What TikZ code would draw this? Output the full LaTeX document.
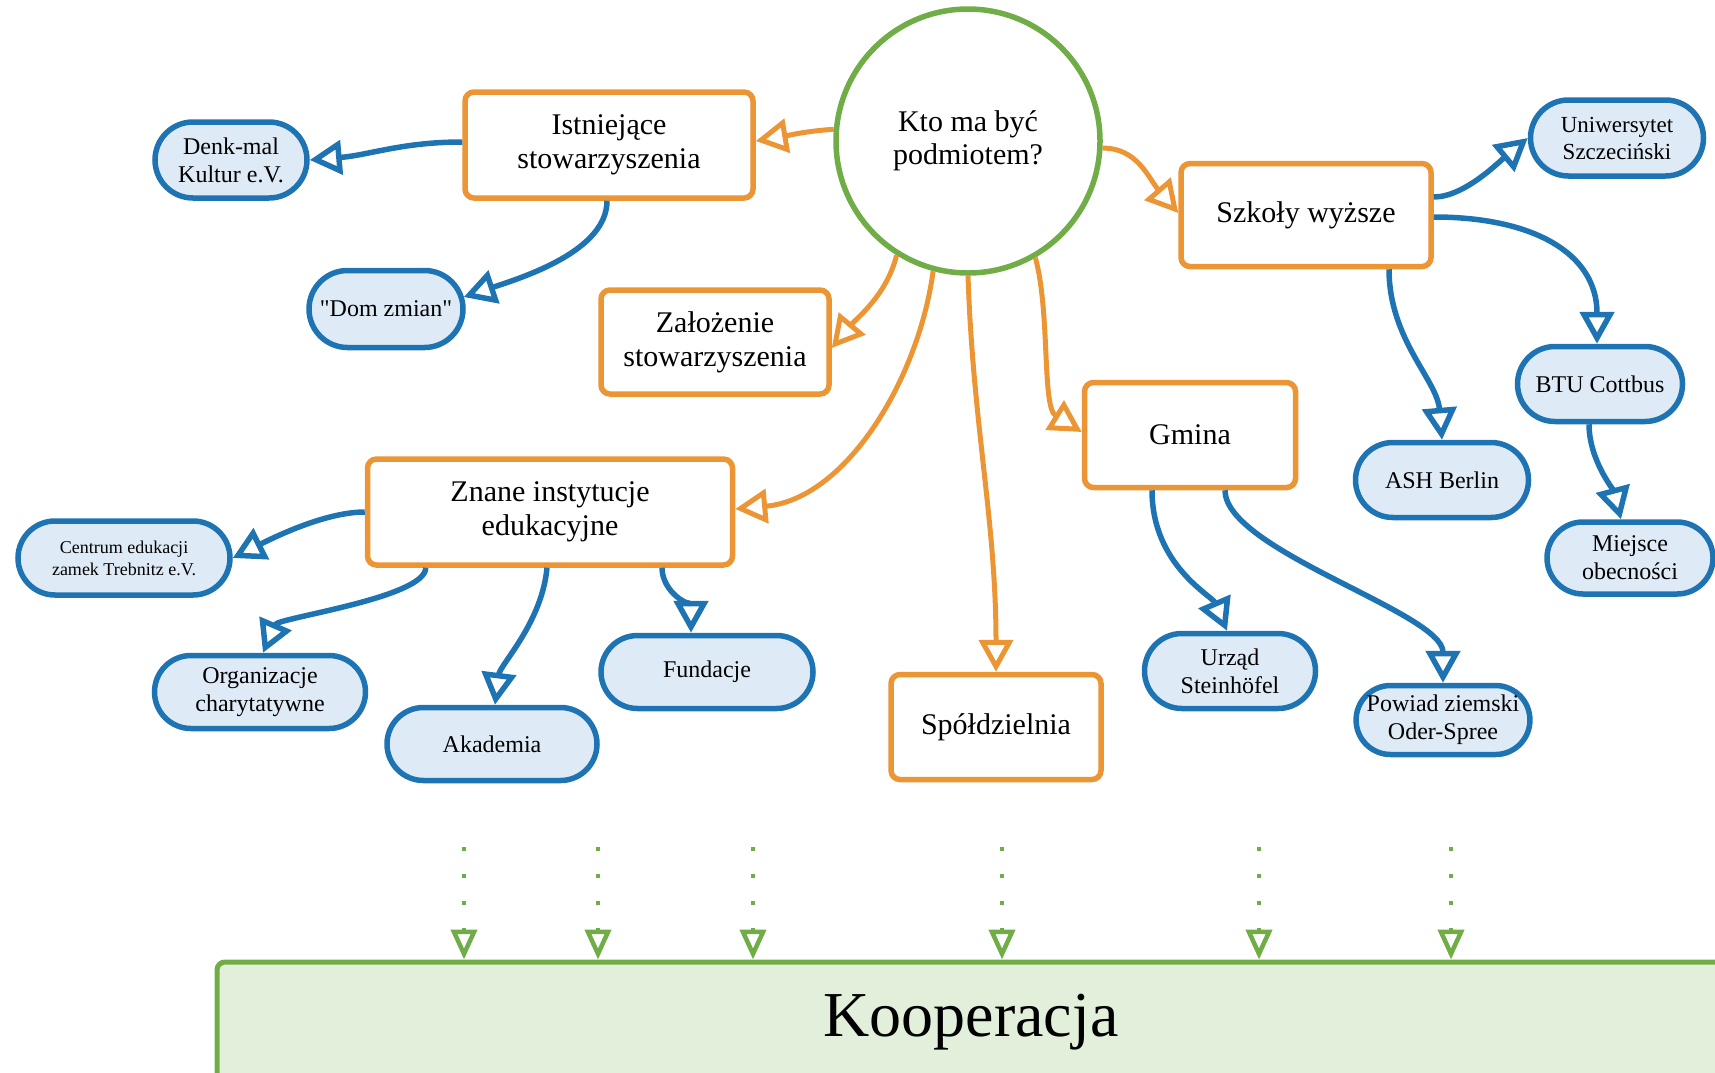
\documentclass[tikz,border=0pt]{standalone}
\usepackage{fontspec}
\setmainfont{Liberation Serif}
\newfontfamily\plainquotes{Liberation Serif}[Ligatures=TeXOff]
\usetikzlibrary{arrows.meta,shapes.misc,calc}

\definecolor{ora}{RGB}{236,149,52}
\definecolor{blu}{RGB}{30,116,178}
\definecolor{bfill}{RGB}{222,235,247}
\definecolor{grn}{RGB}{112,173,71}
\definecolor{gfill}{RGB}{226,239,218}

\begin{document}
\begin{tikzpicture}[x=1pt,y=-1pt,
  obox/.style={draw=ora, line width=5.5pt, rounded corners=9pt, fill=white,
    align=center, inner sep=0pt, font=\fontsize{30}{34}\selectfont},
  bnode/.style={rounded rectangle, draw=blu, fill=bfill, line width=5.5pt,
    align=center, inner sep=0pt, font=\fontsize{24}{28}\selectfont},
  oarr/.style={draw=ora, line width=5pt, -{Triangle[open,length=32pt,width=34pt]}},
  barr/.style={draw=blu, line width=5.5pt, -{Triangle[open,length=32pt,width=34pt]}},
  garr/.style={draw=grn, line width=4.5pt, dash pattern=on 4pt off 23pt,
    -{Triangle[open,length=30pt,width=26pt]}},
]
\useasboundingbox (0,0) rectangle (1715,1072);
\clip (0,0) rectangle (1715,1072);

% central question
\node[circle, draw=grn, line width=5.5pt, fill=white, minimum size=264pt,
  align=center, inner sep=0pt, font=\fontsize{30}{33}\selectfont]
  (circ) at (968,141) {Kto ma być\\podmiotem?};

% first-level forms
\node[obox, minimum width=288pt, minimum height=106pt] (ist) at (609,145) {Istniejące\\stowarzyszenia};
\node[obox, minimum width=228pt, minimum height=104pt] (zal) at (715,342) {Założenie\\stowarzyszenia};
\node[obox, minimum width=365pt, minimum height=106pt] (znane) at (550,512) {Znane instytucje\\edukacyjne};
\node[obox, minimum width=250pt, minimum height=103pt] (szk) at (1306,215) {Szkoły wyższe};
\node[obox, minimum width=211pt, minimum height=105pt] (gmina) at (1190,435) {Gmina};
\node[obox, minimum width=210pt, minimum height=105pt] (spol) at (996,727) {Spółdzielnia};

% examples
\node[bnode, minimum width=152pt, minimum height=76pt] (denk) at (231,160) {Denk-mal\\Kultur e.V.};
\node[bnode, minimum width=154pt, minimum height=77pt] (dom) at (386,309) {\plainquotes "Dom zmian"};
\node[bnode, minimum width=212pt, minimum height=74pt, font=\fontsize{18}{22}\selectfont] (centrum) at (124,558) {Centrum edukacji\\zamek Trebnitz e.V.};
\node[bnode, minimum width=211pt, minimum height=73pt] (org) at (260,692) {Organizacje\\charytatywne};
\node[bnode, minimum width=210pt, minimum height=73pt] (akad) at (492,744) {Akademia};
\node[bnode, minimum width=212pt, minimum height=73pt] (fund) at (707,672) {Fundacje};
\node[bnode, minimum width=171pt, minimum height=75pt] (urzad) at (1230,671) {Urząd\\Steinhöfel};
\node[bnode, minimum width=171pt, minimum height=69pt] (powiad) at (1443,720) {Powiad ziemski\\Oder-Spree};
\node[bnode, minimum width=173pt, minimum height=75pt] (ash) at (1442,480) {ASH Berlin};
\node[bnode, minimum width=165pt, minimum height=75pt] (btu) at (1600,384) {BTU Cottbus};
\node[bnode, minimum width=166pt, minimum height=72pt] (miejsce) at (1630,558) {Miejsce\\obecności};
\node[bnode, minimum width=173pt, minimum height=76pt, font=\fontsize{23}{27}\selectfont] (uniw) at (1617,138) {Uniwersytet\\Szczeciński};

% cooperation bar
\node[draw=grn, fill=gfill, line width=5pt, rounded corners=8pt,
  minimum width=1508pt, minimum height=120pt, inner sep=0pt,
  font=\fontsize{64}{70}\selectfont] (koop) at (971,1022) {Kooperacja};

% orange connectors from the question
\draw[oarr] (circ.175) .. controls +(-30,2) and +(30,-5) .. ($(ist.east)+(0,-4)$);
\draw[oarr] (circ.-3) .. controls +(35,0) and +(-30,-35) .. ($(szk.west)+(0,-2)$);
\draw[oarr] (circ.238) .. controls +(-10,40) and +(25,-30) .. ($(zal.east)+(0,6)$);
\draw[oarr] (circ.255) .. controls +(-15,110) and +(110,-10) .. ($(znane.east)+(0,-3)$);
\draw[oarr] (circ.south) .. controls +(5,150) and +(0,-150) .. (spol.north);
\draw[oarr] (circ.300) .. controls +(15,55) and +(-40,-25) .. ($(gmina.west)+(0,-3)$);

% blue connectors to examples
\draw[barr] ($(ist.west)+(0,-3)$) .. controls +(-60,0) and +(60,-5) .. (denk.east);
\draw[barr] ($(ist.south)+(-2,0)$) .. controls +(0,50) and +(60,-20) .. ($(dom.east)+(-2,-12)$);
\draw[barr] (znane.west) .. controls +(-40,0) and +(40,-20) .. (centrum.east);
\draw[barr] ($(znane.south west)+(61,0)$) .. controls +(0,30) and +(15,-35) .. ($(org.north)+(3,0)$);
\draw[barr] ($(znane.south)+(-3,0)$) .. controls +(-5,55) and +(5,-40) .. ($(akad.north)+(3,0)$);
\draw[barr] ($(znane.south)+(112,0)$) .. controls +(0,25) and +(0,-25) .. ($(fund.north)+(-16,0)$);
\draw[barr] ($(gmina.south)+(-38,0)$) .. controls +(0,75) and +(-15,-35) .. ($(urzad.north)+(-3,0)$);
\draw[barr] ($(gmina.south)+(35,0)$) .. controls +(0,60) and +(0,-70) .. (powiad.north);
\draw[barr] ($(szk.east)+(0,-18)$) .. controls +(30,0) and +(-30,25) .. (uniw.west);
\draw[barr] ($(szk.east)+(0,2)$) .. controls +(100,0) and +(0,-90) .. ($(btu.north)+(-3,0)$);
\draw[barr] ($(szk.south)+(83,0)$) .. controls +(0,70) and +(-5,-60) .. (ash.north);
\draw[barr] ($(btu.south)+(-11,0)$) .. controls +(0,35) and +(-8,-30) .. ($(miejsce.north)+(-9,0)$);

% dotted green arrows into the cooperation bar
\coordinate (d1) at (464,847);
\coordinate (d2) at (598,847);
\coordinate (d3) at (753,847);
\coordinate (d4) at (1002,847);
\coordinate (d5) at (1259,847);
\coordinate (d6) at (1451,847);
\foreach \d in {d1,d2,d3,d4,d5,d6}
  \draw[garr] (\d) -- (\d |- koop.north);
\end{tikzpicture}
\end{document}
